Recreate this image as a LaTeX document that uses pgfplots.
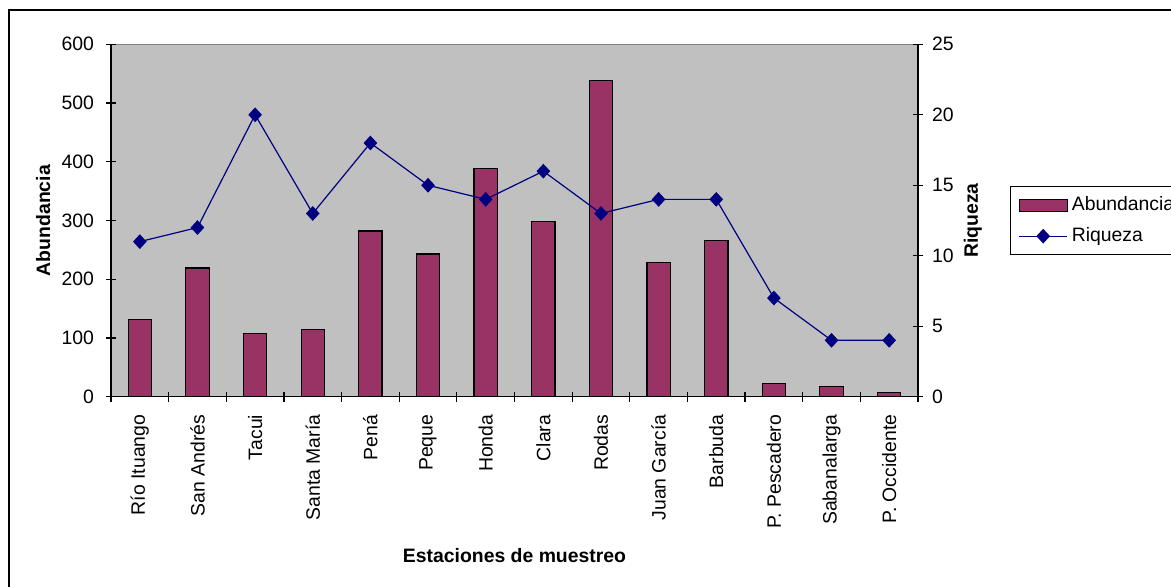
\documentclass[border=0pt]{standalone}
\usepackage{fontspec}
\setmainfont{Liberation Sans}
\usepackage{pgfplots}
\pgfplotsset{compat=1.18}
\definecolor{bargray}{HTML}{C0C0C0}
\definecolor{barfill}{HTML}{993366}
\definecolor{linecol}{HTML}{000080}
\newcommand{\fs}{\fontsize{9.7}{11.5}\selectfont}
\pgfplotsset{diamleg/.style={legend image code/.code={\draw[mark repeat=2, mark phase=2, ##1] plot coordinates {(0pt,0pt) (12pt,0pt) (24pt,0pt)};}}}
\begin{document}
\begin{tikzpicture}
\useasboundingbox (0,0) rectangle (585.5pt,293pt);
\draw[line width=1pt] (4.5pt,288pt) rectangle (640pt,-30pt);
\begin{axis}[
  at={(55.5pt,94.65pt)}, anchor=south west,
  scale only axis, width=403.5pt, height=176.2pt,
  xmin=-0.5, xmax=13.5, ymin=0, ymax=600,
  axis y line*=left, axis x line*=bottom,
  axis line style={line width=0.6pt,-},
  axis background/.style={fill=bargray, draw=gray, line width=0.5pt},
  xtick={0,...,13},
  xticklabels={Río Ituango,San Andrés,Tacui,Santa María,Pená,Peque,Honda,Clara,Rodas,Juan García,Barbuda,P. Pescadero,Sabanalarga,P. Occidente},
  major x tick style={draw=none},
  minor xtick={-0.5,0.5,...,13.5},
  minor x tick style={line width=0.6pt,black},
  minor tick length=5pt,
  ytick={0,100,...,600},
  major tick length=5pt,
  tick align=center,
  y tick style={line width=0.6pt,black},
  /pgf/number format/assume math mode=true,
  tick label style={font=\fs},
  xticklabel style={rotate=90, anchor=east, xshift=-3pt},
  yticklabel style={xshift=-2.5pt},
  ylabel={\textbf{Abundancia}},
  ylabel style={at={(axis description cs:-0.084,0.5)}, anchor=center, rotate=0, font=\fs},
  xlabel={\textbf{Estaciones de muestreo}},
  xlabel style={at={(axis description cs:0.5,-0.452)}, anchor=center, font=\fs},
  clip=false,
]
\addplot[ybar, bar width=11.65pt, draw=black, line width=0.6pt, fill=barfill] coordinates {
(0,132) (1,219) (2,107) (3,114) (4,282) (5,243) (6,388)
(7,298) (8,539) (9,229) (10,266) (11,23) (12,18) (13,7.5)};
\end{axis}
\begin{axis}[
  at={(55.5pt,94.65pt)}, anchor=south west,
  scale only axis, width=403.5pt, height=176.2pt,
  xmin=-0.5, xmax=13.5, ymin=0, ymax=25,
  axis y line*=right, axis x line=none,
  axis line style={line width=0.6pt,-},
  ytick={0,5,...,25},
  major tick length=5pt,
  tick align=center,
  y tick style={line width=0.6pt,black},
  /pgf/number format/assume math mode=true,
  tick label style={font=\fs},
  yticklabel style={xshift=1pt},
  ylabel={\textbf{Riqueza}},
  ylabel style={at={(axis description cs:1.068,0.5)}, anchor=center, rotate=0, font=\fs},
  legend style={at={(rel axis cs:1.114,0.598)}, anchor=north west, draw=black, line width=0.6pt,
    font=\fs, row sep=3pt, inner ysep=3pt, inner xsep=4pt, fill=white},
  legend cell align=left,
  clip=false,
]
\addlegendimage{legend image code/.code={\draw[fill=barfill,draw=black,line width=0.6pt] (0pt,-3pt) rectangle (24pt,3pt);}}
\addlegendentry{Abundancia}
\addplot[color=linecol, line width=0.6pt, mark=diamond*, mark size=3.25pt, mark options={fill=linecol, xscale=1.23}, diamleg]
  coordinates {
(0,11) (1,12) (2,20) (3,13) (4,18) (5,15) (6,14)
(7,16) (8,13) (9,14) (10,14) (11,7) (12,4) (13,4)};
\addlegendentry{Riqueza}
\end{axis}
\end{tikzpicture}
\end{document}
